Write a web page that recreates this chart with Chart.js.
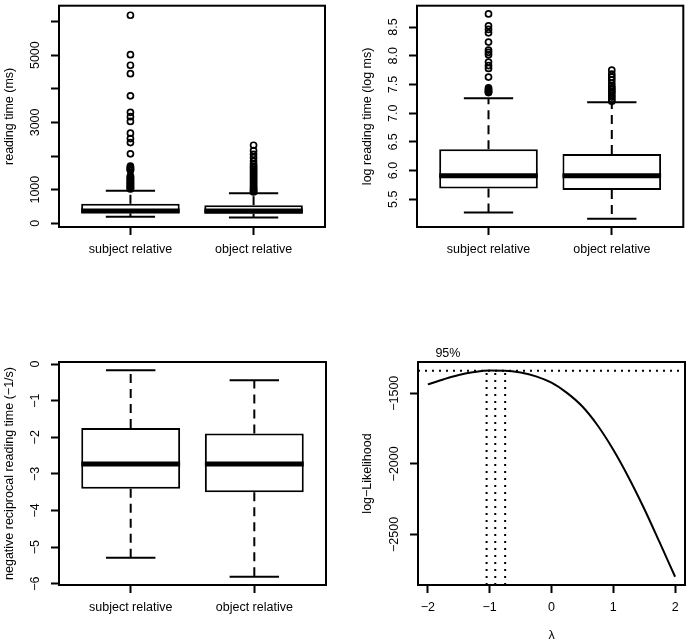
<!DOCTYPE html>
<html><head><meta charset="utf-8">
<script src="https://cdn.jsdelivr.net/npm/chart.js@4.4.0/dist/chart.umd.min.js"></script>
<style>
html,body{margin:0;padding:0;background:#fff;}
body{width:689px;height:644px;position:relative;overflow:hidden;}
canvas{position:absolute;}
</style></head><body>
<canvas id="c1"></canvas><canvas id="c2"></canvas><canvas id="c3"></canvas><canvas id="c4"></canvas>
<script>
// ---------- data ----------
const groups = ["subject relative", "object relative"];
const groupPos = [1, 2];

// Panel 1: reading time (ms)
const rtLow = [194, 174];
const rtQ1 = [296, 287];
const rtMedian = [367, 367];
const rtQ3 = [580, 539];
const rtHigh = [970, 890];
const rtOutliersSubject = [6186, 5014, 4700, 4450, 3790, 3300, 3170, 3030, 2680, 2520, 2400, 2065,
  1700, 1670, 1640, 1610, 1590, 1575, 1410, 1380, 1350, 1320, 1290, 1260, 1230, 1200, 1180, 1150,
  1130, 1100, 1080, 1060, 1040, 1020];
const rtOutliersObject = [2320, 2160, 2050, 1950, 1850, 1760, 1700, 1650, 1600, 1550, 1500, 1450,
  1400, 1350, 1300, 1250, 1200, 1150, 1100, 1060, 1020, 980, 950, 930];
const rtTicks = [0, 1000, 2000, 3000, 4000, 5000, 6000];
const rtTickLabels = ["0", "1000", "", "3000", "", "5000", ""];

// Panel 2: log reading time
const logLow = [5.27, 5.16];
const logQ1 = [5.69, 5.66];
const logMedian = [5.91, 5.91];
const logQ3 = [6.37, 6.29];
const logHigh = [7.26, 7.19];
const logOutliersSubject = [8.73, 8.52, 8.46, 8.40, 8.24, 8.10, 8.06, 8.02, 7.89, 7.83, 7.78, 7.63,
  7.44, 7.42, 7.40, 7.38, 7.37, 7.36];
const logOutliersObject = [7.75, 7.68, 7.63, 7.58, 7.52, 7.47, 7.44, 7.41, 7.38, 7.35, 7.31, 7.28, 7.24, 7.21];
const logTicks = [5.5, 6.0, 6.5, 7.0, 7.5, 8.0, 8.5];
const logTickLabels = ["5.5", "6.0", "6.5", "7.0", "7.5", "8.0", "8.5"];

// Panel 3: negative reciprocal reading time
const recLow = [-5.29, -5.81];
const recQ1 = [-3.41, -3.50];
const recMedian = [-2.73, -2.73];
const recQ3 = [-1.75, -1.90];
const recHigh = [-0.17, -0.44];
const recTicks = [0, -1, -2, -3, -4, -5, -6];
const recTickLabels = ["0", "\u22121", "\u22122", "\u22123", "\u22124", "\u22125", "\u22126"];

// Panel 4: Box-Cox profile log-likelihood
const lambdas = [-2, -1.75, -1.5, -1.25, -1, -0.75, -0.5, -0.25, 0, 0.25, 0.5, 0.75, 1, 1.25, 1.5, 1.75, 2];
const logLik = [-1437, -1402, -1371, -1350, -1339, -1340, -1353, -1380, -1425, -1497, -1594, -1730,
  -1900, -2098, -2318, -2557, -2800];
const ciLambda = [-1.05, -0.91, -0.75];
const ciLevel = -1341;
const llTicks = [-1500, -2000, -2500];
const llTickLabels = ["\u22121500", "\u22122000", "\u22122500"];
const lambdaTicks = [-2, -1, 0, 1, 2];
const lambdaTickLabels = ["\u22122", "\u22121", "0", "1", "2"];

// ---------- drawing helpers ----------
const FONT = { family: '"Liberation Sans", Arial, Helvetica, sans-serif', size: 12.5 };
const FONTSTR = '12.5px "Liberation Sans", Arial, Helvetica, sans-serif';
const INK = '#000';

function place(cv, box) {
  cv.width = box.w; cv.height = box.h;
  cv.style.left = box.x + 'px'; cv.style.top = box.y + 'px';
  cv.style.width = box.w + 'px'; cv.style.height = box.h + 'px';
}

const framePlugin = {
  id: 'rFrame',
  afterDraw(chart, args, o) {
    const ctx = chart.ctx, a = chart.chartArea, ys = chart.scales.y, xs = chart.scales.x;
    ctx.save();
    ctx.strokeStyle = INK; ctx.lineWidth = 2; ctx.setLineDash([]);
    ctx.strokeRect(a.left, a.top, a.right - a.left, a.bottom - a.top);
    ctx.fillStyle = INK; ctx.font = FONTSTR; ctx.textAlign = 'center'; ctx.textBaseline = 'middle';
    o.yTicks.forEach((v, i) => {
      const lab = o.yLabels[i];
      if (!lab) return;
      ctx.save();
      ctx.translate(a.left - o.yLabOff, ys.getPixelForValue(v));
      ctx.rotate(-Math.PI / 2);
      ctx.fillText(lab, 0, 0);
      ctx.restore();
    });
    ctx.save();
    ctx.translate(a.left - o.yTitleOff, (a.top + a.bottom) / 2);
    ctx.rotate(-Math.PI / 2);
    ctx.fillText(o.yTitle, 0, 0);
    ctx.restore();
    if (o.xTitle) ctx.fillText(o.xTitle, (a.left + a.right) / 2, a.bottom + o.xTitleOff);
    if (o.note) {
      ctx.fillText(o.note, xs.getPixelForValue(lambdas[0]) + 20, ys.getPixelForValue(ciLevel) - 17);
    }
    ctx.restore();
  }
};

const boxPlugin = {
  id: 'rBox',
  beforeDatasetsDraw(chart, args, o) {
    const ctx = chart.ctx, ys = chart.scales.y, bars = chart.getDatasetMeta(0).data;
    const seg = (x1, y1, x2, y2) => { ctx.beginPath(); ctx.moveTo(x1, y1); ctx.lineTo(x2, y2); ctx.stroke(); };
    ctx.save(); ctx.strokeStyle = INK; ctx.lineCap = 'butt'; ctx.lineWidth = 2;
    bars.forEach((bar, i) => {
      const x = bar.x, q = bar.width / 4;
      ctx.setLineDash([9, 6]);
      seg(x, ys.getPixelForValue(o.q3[i]), x, ys.getPixelForValue(o.hi[i]));
      seg(x, ys.getPixelForValue(o.q1[i]), x, ys.getPixelForValue(o.lo[i]));
      ctx.setLineDash([]);
      const yh = ys.getPixelForValue(o.hi[i]), yl = ys.getPixelForValue(o.lo[i]);
      seg(x - q, yh, x + q, yh);
      seg(x - q, yl, x + q, yl);
    });
    ctx.restore();
  },
  afterDatasetsDraw(chart, args, o) {
    const ctx = chart.ctx, ys = chart.scales.y, bars = chart.getDatasetMeta(0).data;
    ctx.save(); ctx.strokeStyle = INK; ctx.lineWidth = 5; ctx.lineCap = 'butt';
    bars.forEach((bar, i) => {
      const y = ys.getPixelForValue(o.med[i]), h = bar.width / 2;
      ctx.beginPath(); ctx.moveTo(bar.x - h, y); ctx.lineTo(bar.x + h, y); ctx.stroke();
    });
    ctx.restore();
  }
};

function tickGrid() {
  return { display: true, offset: false, drawOnChartArea: false, drawTicks: true, tickLength: 8, tickWidth: 2, tickColor: INK };
}

function boxChart(id, box, area, d) {
  const cv = document.getElementById(id); place(cv, box);
  const outData = [];
  d.out.forEach((arr, g) => arr.forEach(v => outData.push({ x: groupPos[g], y: v })));
  return new Chart(cv, {
    type: 'bar',
    data: {
      datasets: [
        { type: 'bar', data: groupPos.map((p, i) => ({ x: p, y: [d.q1[i], d.q3[i]] })),
          backgroundColor: '#fff', borderColor: INK, borderWidth: 2, borderSkipped: false,
          barPercentage: 0.8, categoryPercentage: 1 },
        { type: 'scatter', data: outData, pointStyle: 'circle', pointRadius: 3, pointBorderWidth: 1.7,
          pointBorderColor: INK, pointBackgroundColor: 'rgba(0,0,0,0)', showLine: false }
      ]
    },
    options: {
      responsive: false, animation: false, devicePixelRatio: 1,
      layout: { padding: { left: 0, bottom: 0, top: area.t - box.y, right: box.x + box.w - area.r } },
      plugins: {
        legend: { display: false }, tooltip: { enabled: false },
        rFrame: { yTicks: d.yTicks, yLabels: d.yLabels, yTitle: d.yTitle, yLabOff: 23, yTitleOff: 49 },
        rBox: { lo: d.lo, q1: d.q1, med: d.med, q3: d.q3, hi: d.hi }
      },
      scales: {
        x: { type: 'linear', min: 0.42, max: 2.58, offset: false,
          afterBuildTicks: s => { s.ticks = groupPos.map(v => ({ value: v })); },
          afterFit: s => { s.height = box.y + box.h - area.b; },
          ticks: { callback: (v, i) => groups[i], color: INK, font: FONT, padding: 7, autoSkip: false, maxRotation: 0, minRotation: 0 },
          grid: tickGrid(), border: { display: false } },
        y: { type: 'linear', min: d.min, max: d.max,
          afterBuildTicks: s => { s.ticks = d.yTicks.map(v => ({ value: v })); },
          afterFit: s => { s.width = area.l - box.x; },
          ticks: { display: false },
          grid: tickGrid(), border: { display: false } }
      }
    },
    plugins: [framePlugin, boxPlugin]
  });
}

boxChart('c1', { x: 0, y: 0, w: 344, h: 322 }, { l: 59, t: 3, r: 325, b: 227 }, {
  lo: rtLow, q1: rtQ1, med: rtMedian, q3: rtQ3, hi: rtHigh, out: [rtOutliersSubject, rtOutliersObject],
  min: -110, max: 6470, yTicks: rtTicks, yLabels: rtTickLabels, yTitle: 'reading time (ms)'
});
boxChart('c2', { x: 344, y: 0, w: 345, h: 322 }, { l: 417, t: 3, r: 686, b: 227 }, {
  lo: logLow, q1: logQ1, med: logMedian, q3: logQ3, hi: logHigh, out: [logOutliersSubject, logOutliersObject],
  min: 5.017, max: 8.873, yTicks: logTicks, yLabels: logTickLabels, yTitle: 'log reading time (log ms)'
});
boxChart('c3', { x: 0, y: 322, w: 344, h: 322 }, { l: 59, t: 362, r: 326, b: 585 }, {
  lo: recLow, q1: recQ1, med: recMedian, q3: recQ3, hi: recHigh, out: [[], []],
  min: -6.036, max: 0.056, yTicks: recTicks, yLabels: recTickLabels, yTitle: 'negative reciprocal reading time (\u22121/s)'
});

// Panel 4
(function () {
  const box = { x: 344, y: 322, w: 345, h: 322 }, area = { l: 418, t: 362, r: 685, b: 585 };
  const cv = document.getElementById('c4'); place(cv, box);
  const xMin = -2.16, xMax = 2.16, yMin = -2858.5, yMax = -1278.5;
  const peak = Math.max(...logLik);
  const dotted = { showLine: true, borderColor: INK, borderWidth: 2, borderDash: [2, 5], pointRadius: 0, fill: false, tension: 0 };
  const datasets = [
    { data: lambdas.map((l, i) => ({ x: l, y: logLik[i] })), showLine: true, borderColor: INK, borderWidth: 2,
      pointRadius: 0, fill: false, cubicInterpolationMode: 'monotone' },
    Object.assign({ data: [{ x: xMin, y: ciLevel }, { x: xMax, y: ciLevel }] }, dotted)
  ];
  ciLambda.forEach((l, i) => {
    datasets.push(Object.assign({ data: [{ x: l, y: yMin }, { x: l, y: i === 1 ? peak : ciLevel }] }, dotted));
  });
  new Chart(cv, {
    type: 'scatter',
    data: { datasets },
    options: {
      responsive: false, animation: false, devicePixelRatio: 1,
      layout: { padding: { left: 0, bottom: 0, top: area.t - box.y, right: box.x + box.w - area.r } },
      plugins: {
        legend: { display: false }, tooltip: { enabled: false },
        rFrame: { yTicks: llTicks, yLabels: llTickLabels, yTitle: 'log\u2212Likelihood', yLabOff: 23, yTitleOff: 50,
          xTitle: '\u03bb', xTitleOff: 51, note: '95%' }
      },
      scales: {
        x: { type: 'linear', min: xMin, max: xMax,
          afterBuildTicks: s => { s.ticks = lambdaTicks.map(v => ({ value: v })); },
          afterFit: s => { s.height = box.y + box.h - area.b; },
          ticks: { callback: (v, i) => lambdaTickLabels[i], color: INK, font: FONT, padding: 7, autoSkip: false, maxRotation: 0, minRotation: 0 },
          grid: tickGrid(), border: { display: false } },
        y: { type: 'linear', min: yMin, max: yMax,
          afterBuildTicks: s => { s.ticks = llTicks.map(v => ({ value: v })); },
          afterFit: s => { s.width = area.l - box.x; },
          ticks: { display: false },
          grid: tickGrid(), border: { display: false } }
      }
    },
    plugins: [framePlugin]
  });
})();
</script>
</body></html>
